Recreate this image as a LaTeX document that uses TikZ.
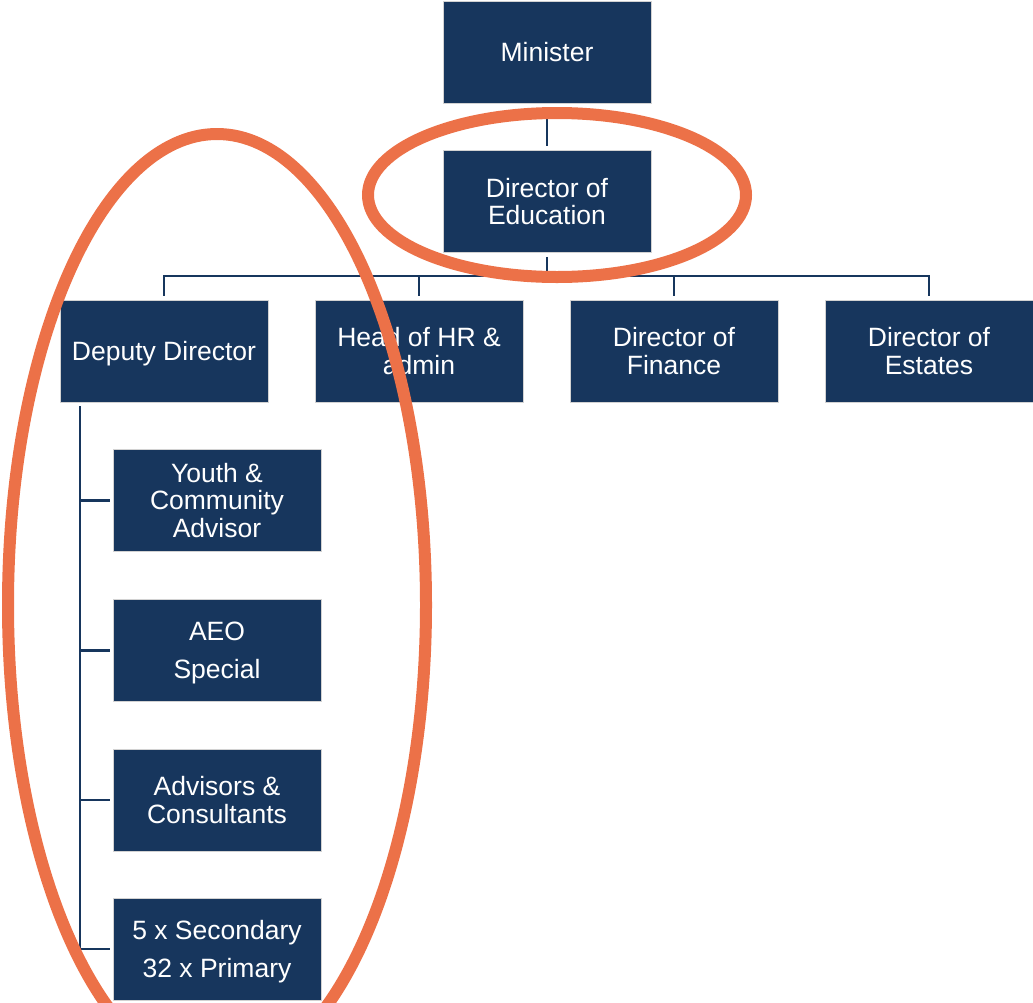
\documentclass[tikz,border=0pt]{standalone}
\usepackage{fontspec}
\setmainfont{Liberation Sans}
\definecolor{navy}{HTML}{17365D}
\definecolor{ringc}{HTML}{EC7148}
\begin{document}
\begin{tikzpicture}[x=1pt,y=-1pt,
  box/.style={fill=navy, draw=gray!35, line width=0.7pt, minimum width=208pt,
    minimum height=102pt, inner sep=0pt, text=white, align=center,
    font=\fontsize{26.5}{27.5}\selectfont},
  flat/.style={text depth=0pt},
  link/.style={draw=navy, line width=2.5pt},
  ring/.style={draw=ringc, line width=12pt}]
\useasboundingbox (0,0) rectangle (1033,1002);

% top of the chart
\node[box] (min) at (547,52) {Minister};
\node[box] (doe) at (547,201.5) {Director of\\Education};

% second level
\node[box, flat] (dep) at (164,351) {Deputy Director};
\node[box] (hr)  at (419,351) {Head of HR \&\\admin};
\node[box] (fin) at (674,351) {Director of\\Finance};
\node[box] (est) at (929,351) {Director of\\Estates};

% reports of the deputy director
\node[box] (you) at (217,500.5) {Youth \&\\Community\\Advisor};
\node[box, flat] (aeo) at (217,650.5) {AEO\\[10.5pt]Special};
\node[box] (adv) at (217,800) {Advisors \&\\Consultants};
\node[box, flat] (sch) at (217,949) {5 x Secondary\\[10.5pt]32 x Primary};

% connectors
\coordinate (bus) at (547,276);
\coordinate (trunk) at (80,406);
\draw[link, shorten <=4pt, shorten >=4pt] (min.south) -- (doe.north);
\draw[link, shorten <=4pt] (doe.south) -- (bus);
\draw[link, shorten <=4pt, shorten >=4pt] (dep.north) |- (bus) -| (est.north);
\draw[link, shorten >=4pt] (hr.north |- bus) -- (hr.north);
\draw[link, shorten >=4pt] (fin.north |- bus) -- (fin.north);
\draw[link, shorten >=3pt] (trunk) |- (sch.west);
\draw[link, shorten >=3pt] (trunk |- you.west) -- (you.west);
\draw[link, shorten >=3pt] (trunk |- aeo.west) -- (aeo.west);
\draw[link, shorten >=3pt] (trunk |- adv.west) -- (adv.west);

% highlight rings
\draw[ring] (557,195) ellipse [x radius=189pt, y radius=82pt];
\draw[ring] (217,605) ellipse [x radius=209pt, y radius=471pt];
\end{tikzpicture}
\end{document}
